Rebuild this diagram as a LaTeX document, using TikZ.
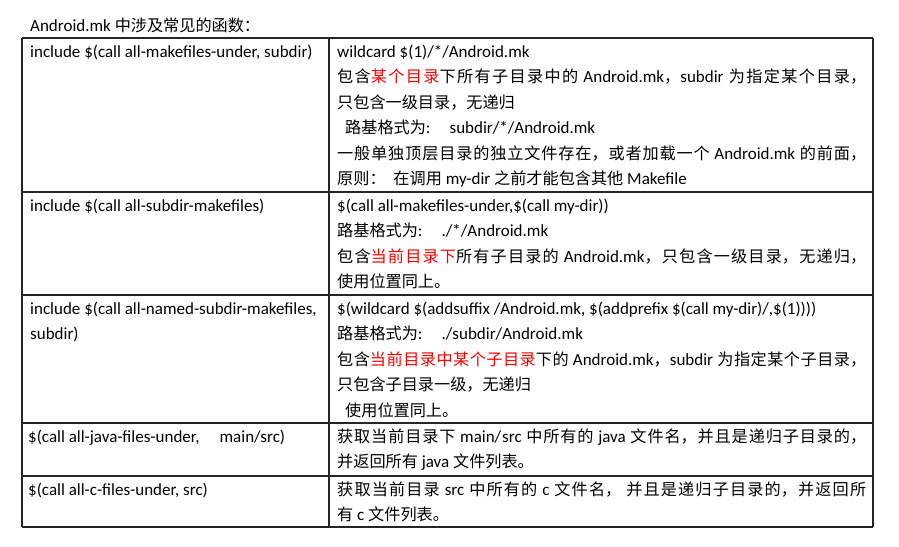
\documentclass[tikz,border=0pt]{standalone}
\usepackage{fontspec}
\usepackage{xcolor}
\setmainfont{Carlito}
\newfontfamily\zhfont[Scale=0.95]{Noto Sans CJK SC}
\setlength\parindent{0pt}
\tolerance=10000
\hbadness=10000
\XeTeXlinebreaklocale "zh"
\XeTeXlinebreakskip=0pt plus 2pt

\newcommand\zh[1]{{\zhfont#1}}
\newcommand\hl[1]{{\color{red}\zhfont#1}}
\newcommand\cs{\rule{0pt}{16pt}}

\tikzset{
  tabline/.style={draw=black!85, line width=1.2pt},
  cellkey/.style={anchor=north west, inner sep=0pt, align=left,
    font=\fontsize{17}{25.5}\selectfont},
  celldesc/.style={anchor=north west, inner sep=0pt, text width=529pt, align=justify,
    font=\fontsize{17}{25.5}\selectfont},
}

\begin{document}
\begin{tikzpicture}[x=1pt,y=-1pt]
      
      % Parameters
      \def\tabL{22}
      \def\tabM{329}
      \def\tabR{873}
      \def\tabT{38}
      \def\tabB{527}
      \useasboundingbox (0,0) rectangle (899,546);
      
      % row borders
      \foreach \y in {\tabT,192,295,423,476,\tabB} {
        \draw[tabline] (\tabL,\y) -- (\tabR,\y);
      }
      
      % column borders
      \foreach \x in {\tabL,\tabM,\tabR} {
        \draw[tabline] (\x,\tabT) -- (\x,\tabB);
      }
      
      % title
      \node[anchor=base west, inner sep=0pt, font=\fontsize{17}{20}\selectfont] (title) at (30,31)
        {Android.mk \zh{中涉及常见的函数：}};
      
      % left column
      \node[cellkey] (keyA) at (30,\tabT+3) {\cs include \$(call all-makefiles-under, subdir)};
      \node[cellkey] (keyB) at (30,195) {\cs include \$(call all-subdir-makefiles)};
      \node[cellkey] (keyC) at (30,298) {\cs include \$(call all-named-subdir-makefiles,\\ subdir)};
      \node[cellkey] (keyD) at (28,426) {\cs \$(call all-java-files-under,\hspace{20pt}main/src)};
      \node[cellkey] (keyE) at (28,479) {\cs \$(call all-c-files-under, src)};
      
      % right column
      \node[celldesc] (descA) at (337,\tabT+3) {\cs wildcard \$(1)/*/Android.mk\\
        \zh{包含}\hl{某个目录}\zh{下所有子目录中的} Android.mk\zh{，}subdir \zh{为指定某个目录，}\linebreak
        \zh{只包含一级目录，无递归}\\
        \hspace*{8pt}\zh{路基格式为}:\hspace{14pt} subdir/*/Android.mk\\
        \zh{一般单独顶层目录的独立文件存在，或者加载一个} Android.mk \zh{的前面，}\linebreak
        \zh{原则：}\hspace{4pt} \zh{在调用} my-dir \zh{之前才能包含其他} Makefile};
      \node[celldesc] (descB) at (337,195) {\cs \$(call all-makefiles-under,\$(call my-dir))\\
        \zh{路基格式为}:\hspace{14pt} ./*/Android.mk\\
        \zh{包含}\hl{当前目录下}\zh{所有子目录的} Android.mk\zh{，只包含一级目录，无递归，}\linebreak
        \zh{使用位置同上。}};
      \node[celldesc] (descC) at (337,298) {\cs \$(wildcard \$(addsuffix /Android.mk, \$(addprefix \$(call my-dir)/,\$(1))))\\
        \zh{路基格式为}:\hspace{14pt} ./subdir/Android.mk\\
        \zh{包含}\hl{当前目录中某个子目录}\zh{下的} Android.mk\zh{，}subdir \zh{为指定某个子目录，}\linebreak
        \zh{只包含子目录一级，无递归}\\
        \hspace*{8pt}\zh{使用位置同上。}};
      \node[celldesc] (descD) at (337,426) {\cs \zh{获取当前目录下} main/src \zh{中所有的} java \zh{文件名，并且是递归子目录的，}\linebreak
        \zh{并返回所有} java \zh{文件列表。}};
      \node[celldesc] (descE) at (337,479) {\cs \zh{获取当前目录} src \zh{中所有的} c \zh{文件名，} \zh{并且是递归子目录的，并返回所}\linebreak
        \zh{有} c \zh{文件列表。}};
      
\end{tikzpicture}
\end{document}
